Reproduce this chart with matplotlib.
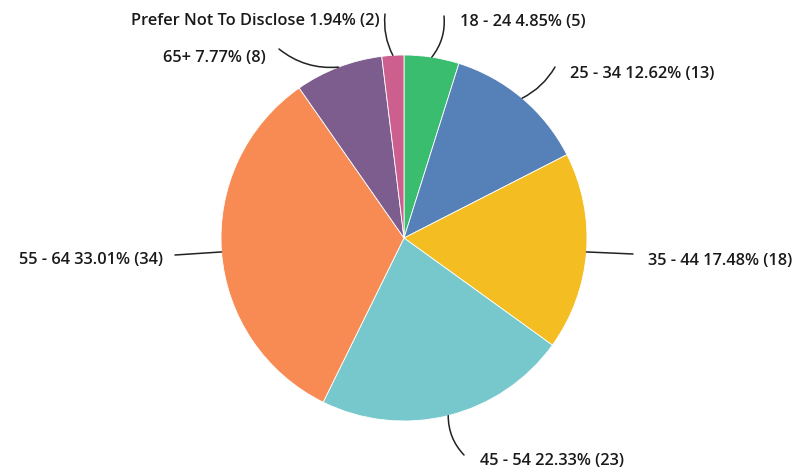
import numpy as np
import matplotlib.pyplot as plt

labels = ['18 - 24', '25 - 34', '35 - 44', '45 - 54', '55 - 64', '65+', 'Prefer Not To Disclose']
counts = [5, 13, 18, 23, 34, 8, 2]
percents = ['4.85%', '12.62%', '17.48%', '22.33%', '33.01%', '7.77%', '1.94%']
colors = ['#3bbd70', '#5680b8', '#f4bd22', '#76c8cc', '#f78b53', '#7c5d8e', '#cd5f8e']

# label layout in pixel coords (y down): line end, text anchor, alignment, curve
line_ends = [(444, 16), (555, 67), (633, 254), (464, 455), (175, 255), (279, 49), (385, 14)]
text_pos = [(460, 22), (570, 74), (648, 261), (480, 461), (163, 260), (266, 58), (380, 21)]
aligns = ['left', 'left', 'left', 'left', 'right', 'right', 'right']
rads = [-0.2, -0.15, 0.0, -0.2, 0.0, 0.2, 0.15]

W, H = 798, 473
cx, cy, r = 404, 238, 183

fig = plt.figure(figsize=(W / 100, H / 100), dpi=100)
ax = fig.add_axes([0, 0, 1, 1])

wedges, _ = ax.pie(counts, colors=colors, startangle=90, counterclock=False,
                   center=(cx, H - cy), radius=r,
                   wedgeprops=dict(edgecolor='white', linewidth=0.6))
ax.set_xlim(0, W)
ax.set_ylim(0, H)
ax.set_aspect('equal')
ax.axis('off')

for i, w in enumerate(wedges):
    mid = np.deg2rad((w.theta1 + w.theta2) / 2)
    ex = cx + r * np.cos(mid)
    ey = (H - cy) + r * np.sin(mid)
    lx, ly = line_ends[i]
    ax.annotate('', xy=(ex, ey), xytext=(lx, H - ly),
                arrowprops=dict(arrowstyle='-', color='#222222', lw=1.1,
                                shrinkA=0, shrinkB=0,
                                connectionstyle=f'arc3,rad={rads[i]}'))
    tx, ty = text_pos[i]
    ax.text(tx, H - ty, f'{labels[i]} {percents[i]} ({counts[i]})',
            ha=aligns[i], va='center', fontsize=11.8, fontweight='semibold',
            family=['Open Sans', 'DejaVu Sans'], color='#1a1a1a')

fig.savefig('out.png', dpi=100)
